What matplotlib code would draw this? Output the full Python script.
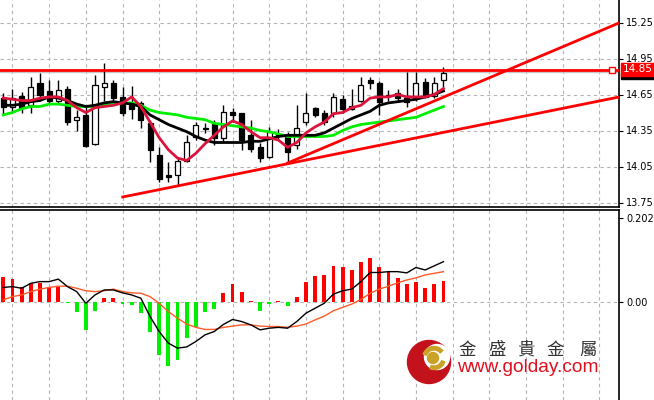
import matplotlib
matplotlib.use("Agg")
import matplotlib.pyplot as plt
from matplotlib.patches import Circle, Rectangle, Wedge
from matplotlib.transforms import Affine2D
import numpy as np

# candle data (open, high, low, close)
opens = [14.62, 14.55, 14.64, 14.56, 14.75, 14.68, 14.60, 14.70, 14.44, 14.48,
         14.24, 14.71, 14.75, 14.63, 14.56, 14.58, 14.41, 14.15, 13.98, 13.98,
         14.10, 14.30, 14.36, 14.40, 14.29, 14.50, 14.50, 14.31, 14.21, 14.13,
         14.31, 14.31, 14.23, 14.42, 14.54, 14.50, 14.50, 14.61, 14.53, 14.60,
         14.77, 14.75, 14.64, 14.66, 14.62, 14.62, 14.75, 14.64, 14.77]
highs = [14.66, 14.70, 14.67, 14.80, 14.83, 14.77, 14.77, 14.72, 14.52, 14.55,
         14.81, 14.91, 14.77, 14.71, 14.72, 14.60, 14.44, 14.21, 14.09, 14.12,
         14.31, 14.42, 14.41, 14.44, 14.56, 14.54, 14.50, 14.44, 14.25, 14.38,
         14.36, 14.34, 14.56, 14.66, 14.55, 14.52, 14.66, 14.65, 14.70, 14.80,
         14.80, 14.76, 14.69, 14.70, 14.84, 14.84, 14.79, 14.80, 14.88]
lows = [14.48, 14.50, 14.50, 14.50, 14.60, 14.57, 14.58, 14.40, 14.35, 14.21,
        14.23, 14.60, 14.59, 14.47, 14.45, 14.37, 14.09, 13.92, 13.92, 13.89,
        14.09, 14.27, 14.33, 14.23, 14.25, 14.42, 14.19, 14.17, 14.09, 14.12,
        14.27, 14.08, 14.20, 14.40, 14.46, 14.40, 14.46, 14.50, 14.52, 14.59,
        14.70, 14.48, 14.60, 14.60, 14.55, 14.60, 14.62, 14.62, 14.71]
closes = [14.55, 14.62, 14.54, 14.71, 14.65, 14.60, 14.69, 14.42, 14.46, 14.22,
          14.73, 14.75, 14.62, 14.50, 14.53, 14.44, 14.19, 13.95, 13.96, 14.10,
          14.25, 14.40, 14.37, 14.29, 14.50, 14.48, 14.27, 14.20, 14.12, 14.34,
          14.32, 14.17, 14.37, 14.50, 14.48, 14.42, 14.63, 14.53, 14.55, 14.73,
          14.75, 14.59, 14.65, 14.62, 14.59, 14.75, 14.63, 14.75, 14.83]

# moving averages as drawn
ma_fast = [14.62, 14.61, 14.60, 14.60, 14.62, 14.63, 14.63, 14.60, 14.54, 14.50,
           14.54, 14.55, 14.56, 14.58, 14.63, 14.55, 14.42, 14.29, 14.19, 14.12,
           14.10, 14.16, 14.24, 14.31, 14.38, 14.43, 14.40, 14.34, 14.29, 14.29,
           14.27, 14.21, 14.25, 14.33, 14.38, 14.42, 14.49, 14.50, 14.54, 14.56,
           14.62, 14.63, 14.63, 14.65, 14.63, 14.63, 14.63, 14.65, 14.70]
ma_mid = [14.56, 14.56, 14.57, 14.59, 14.60, 14.63, 14.62, 14.60, 14.57, 14.55,
          14.56, 14.58, 14.59, 14.58, 14.57, 14.55, 14.48, 14.44, 14.40, 14.37,
          14.34, 14.30, 14.27, 14.25, 14.25, 14.25, 14.25, 14.26, 14.26, 14.28,
          14.30, 14.31, 14.31, 14.31, 14.31, 14.33, 14.37, 14.41, 14.45, 14.48,
          14.51, 14.56, 14.58, 14.59, 14.60, 14.61, 14.63, 14.65, 14.68]
ma_slow = [14.48, 14.50, 14.53, 14.55, 14.55, 14.57, 14.57, 14.56, 14.55, 14.55,
           14.55, 14.57, 14.58, 14.58, 14.58, 14.56, 14.52, 14.50, 14.49, 14.48,
           14.46, 14.45, 14.44, 14.41, 14.40, 14.39, 14.38, 14.37, 14.35, 14.34,
           14.32, 14.30, 14.30, 14.30, 14.30, 14.30, 14.31, 14.35, 14.38, 14.40,
           14.41, 14.42, 14.43, 14.44, 14.45, 14.46, 14.49, 14.52, 14.55]

# trend lines (bar index, price) and horizontal levels
trend_a_x, trend_a_y = [31, 67.14], [14.079, 15.246]
trend_b_x, trend_b_y = [13.02, 67.14], [13.796, 14.629]
resistance = 14.858
bid_line = 14.835

# MACD panel
hist = [0.061, 0.055, 0.037, 0.046, 0.045, 0.035, 0.037, -0.003, -0.023, -0.067,
        -0.022, 0.009, 0.010, -0.005, -0.007, -0.027, -0.071, -0.127, -0.154, -0.139,
        -0.087, -0.061, -0.023, -0.018, 0.021, 0.043, 0.023, 0.002, -0.022, -0.005,
        0.003, -0.009, 0.013, 0.047, 0.063, 0.065, 0.087, 0.085, 0.077, 0.097,
        0.105, 0.085, 0.073, 0.058, 0.043, 0.049, 0.034, 0.043, 0.051]
macd = [0.035, 0.037, 0.033, 0.045, 0.049, 0.049, 0.055, 0.037, 0.025, -0.003,
        0.017, 0.029, 0.029, 0.022, 0.017, 0.009, -0.035, -0.071, -0.099, -0.111,
        -0.108, -0.095, -0.079, -0.071, -0.054, -0.042, -0.047, -0.055, -0.067, -0.063,
        -0.061, -0.063, -0.047, -0.027, -0.015, -0.003, 0.019, 0.027, 0.031, 0.049,
        0.071, 0.071, 0.073, 0.073, 0.070, 0.083, 0.077, 0.087, 0.097]
signal = [0.005, 0.013, 0.017, 0.025, 0.031, 0.035, 0.038, 0.038, 0.033, 0.027,
          0.025, 0.027, 0.031, 0.025, 0.022, 0.021, 0.013, -0.003, -0.023, -0.039,
          -0.053, -0.061, -0.066, -0.066, -0.061, -0.058, -0.055, -0.055, -0.058, -0.059,
          -0.059, -0.061, -0.058, -0.053, -0.043, -0.034, -0.021, -0.013, -0.005, 0.006,
          0.021, 0.031, 0.038, 0.046, 0.053, 0.058, 0.065, 0.069, 0.073]

price_ticks = [15.25, 14.95, 14.65, 14.35, 14.05, 13.75]
macd_ticks = [0.0, 0.202]
macd_labels = ["0.00", "0.202"]

W, H = 654, 400
fig = plt.figure(figsize=(W / 100, H / 100), dpi=100)
fig.patch.set_facecolor("white")

XL = (-0.36, 67.14)
grid_x = np.arange(1, 66, 4)
gkw = dict(color="#b4b4b4", linestyle=(0, (3, 3)), linewidth=0.8, zorder=0)

# ---- price panel
ax = fig.add_axes([0, 1 - 207 / H, 619 / W, 207 / H])
ax.set_xlim(*XL)
ax.set_ylim(15.4375 - 207 / 120, 15.4375)
for g in grid_x:
    ax.axvline(g, **gkw)
for p in price_ticks:
    ax.axhline(p, **gkw)

n = len(opens)
idx = np.arange(n)
o = np.array(opens); c = np.array(closes)
ax.vlines(idx, lows, highs, color="black", linewidth=1, zorder=2)
bottoms = np.minimum(o, c)
heights = np.maximum(np.abs(c - o), 0.006)
faces = ["white" if cc >= oo else "black" for oo, cc in zip(o, c)]
ax.bar(idx, heights, bottom=bottoms, width=0.55, color=faces,
       edgecolor="black", linewidth=0.9, zorder=3)

ax.plot(idx, ma_slow, color="#00ee00", linewidth=2, zorder=4)
ax.plot(idx, ma_mid, color="black", linewidth=2, zorder=4)
ax.plot(idx, ma_fast, color="#dc143c", linewidth=2, zorder=5)

ax.axhline(bid_line, color="#c8c8c8", linewidth=1, zorder=1)
ax.axhline(resistance, color="red", linewidth=2, zorder=6)
ax.plot(trend_a_x, trend_a_y, color="red", linewidth=2, zorder=6)
ax.plot(trend_b_x, trend_b_y, color="red", linewidth=2, zorder=6)
ax.plot([66.4], [resistance], marker="s", markersize=4, markerfacecolor="white",
        markeredgecolor="red", markeredgewidth=1, zorder=7, clip_on=False)

ax.set_xticks([])
ax.yaxis.tick_right()
ax.set_yticks(price_ticks)
ax.set_yticklabels([f"{p:.2f}" for p in price_ticks])
ax.tick_params(axis="y", length=3, width=0.8, pad=2, labelsize=7, colors="black")
for s in ["top", "left"]:
    ax.spines[s].set_visible(False)
for s in ["right", "bottom"]:
    ax.spines[s].set_linewidth(1.2)

# current price tags at the right edge
fig.patches.append(Rectangle((621 / W, 1 - 79 / H), 33 / W, 6 / H,
                             transform=fig.transFigure, color="black", zorder=5))
fig.text(637.5 / W, 1 - 69.5 / H, "14.85", ha="center", va="center",
         fontsize=7.5, color="white", zorder=6,
         bbox=dict(boxstyle="square,pad=0.15", facecolor="red", edgecolor="red"))

# ---- MACD panel
ax2 = fig.add_axes([0, 0, 619 / W, 190 / H])
ax2.set_xlim(*XL)
ax2.set_ylim((302 - 400) / 415.8, (302 - 210) / 415.8)
for g in grid_x:
    ax2.axvline(g, **gkw)
ax2.axhline(0, **gkw)
hcol = ["#ff0000" if v >= 0 else "#00ee00" for v in hist]
ax2.bar(idx, hist, width=0.42, color=hcol, zorder=2)
ax2.plot(idx, signal, color="#ff5a28", linewidth=1, zorder=3)
ax2.plot(idx, macd, color="black", linewidth=1, zorder=4)
ax2.set_xticks([])
ax2.yaxis.tick_right()
ax2.set_yticks(macd_ticks)
ax2.set_yticklabels(macd_labels)
ax2.tick_params(axis="y", length=3, width=0.8, pad=2, labelsize=7, colors="black")
for s in ["bottom", "left"]:
    ax2.spines[s].set_visible(False)
for s in ["right", "top"]:
    ax2.spines[s].set_linewidth(1.2)

# ---- watermark logo (pixel coords, top-left origin)
px_tr = Affine2D().scale(1, -1).translate(0, H)
logo = [
    Circle((429, 362), 21.5, color="#c4121c"),
    Circle((437, 357), 12.5, color="white"),
    Wedge((434, 358), 11.5, 200, 320, width=3.5, color="#c9a227"),
    Wedge((434, 358), 11.5, 20, 110, width=3.5, color="#c9a227"),
    Circle((433, 358), 5.5, color="#c9a227"),
]
for pt in logo:
    pt.set_transform(px_tr)
    fig.patches.append(pt)

cjk = ["金", "盛", "貴", "金", "屬"]
cjk_x = [467, 497, 526, 555, 588]
for ch, px in zip(cjk, cjk_x):
    fig.text(px / W, 1 - 350 / H, ch, ha="center", va="center", fontsize=12.5,
             color="#333333", family=["Noto Sans CJK TC", "DejaVu Sans"])
fig.text(457 / W, 1 - 368 / H, "www.golday.com", ha="left", va="center",
         fontsize=13.8, color="#e0101e", family="Liberation Sans")

fig.savefig("out.png", dpi=100)
